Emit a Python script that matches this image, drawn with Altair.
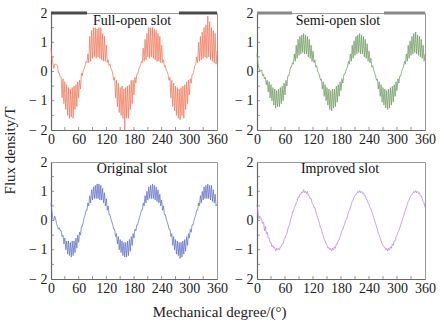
import altair as alt
import pandas as pd

# ---------------- data ----------------
# outer points (tooth tips) at 0,4,...,360 deg; inner points at 2,6,...,358 deg
tip_deg = list(range(0, 361, 4))
inner_deg = list(range(2, 360, 4))

full_tip = [0.8, 0.3, 0.25, 0.25, -0.05, -0.2, -0.9, -1.1, -1.3, -1.5, -1.6, -1.55, -1.6, -1.3, -1.2, -0.9, -0.6, -0.15,
            0.1, 0.35, 0.6, 1.2, 1.4, 1.5, 1.5, 1.45, 1.5, 1.5, 1.3, 1.2, 0.9, 0.4, 0.25, 0.05, -0.3, -0.9, -1.2, -1.4,
            -1.5, -1.6, -2.0, -1.6, -1.6, -1.3, -1.1, -0.8, -0.4, -0.1, 0.15, 0.35, 0.8, 1.1, 1.3, 1.5, 1.5, 1.5, 1.45,
            1.4, 1.3, 1.2, 0.9, 0.4, 0.2, 0.0, -0.3, -0.9, -1.2, -1.35, -1.5, -1.6, -1.65, -1.5, -1.6, -1.3, -1.1, -0.8,
            -0.4, -0.1, 0.2, 0.5, 1.0, 1.2, 1.35, 1.5, 1.6, 1.9, 1.7, 1.5, 1.4, 1.3, 0.7]
full_inner = [0.45, 0.1, 0.25, 0.2, -0.05, -0.2, -0.25, -0.35, -0.45, -0.55, -0.6, -0.55, -0.5, -0.45, -0.35, -0.3, -0.05,
              0.05, 0.2, 0.3, 0.3, 0.35, 0.45, 0.5, 0.45, 0.5, 0.45, 0.4, 0.35, 0.35, 0.3, 0.2, 0.1, -0.1, -0.2, -0.3,
              -0.4, -0.55, -0.5, -0.6, -0.55, -0.5, -0.45, -0.3, -0.3, -0.2, -0.1, 0.05, 0.2, 0.3, 0.35, 0.4, 0.5, 0.45,
              0.5, 0.45, 0.4, 0.35, 0.35, 0.3, 0.3, 0.15, 0.05, -0.1, -0.2, -0.3, -0.4, -0.5, -0.55, -0.6, -0.55, -0.5,
              -0.45, -0.35, -0.3, -0.25, -0.1, 0.05, 0.25, 0.3, 0.35, 0.4, 0.45, 0.5, 0.45, 0.5, 0.4, 0.35, 0.3, 0.25]

semi_tip = [0.6, 0.1, 0.05, -0.15, -0.25, -0.45, -0.7, -0.9, -1.0, -1.15, -1.25, -1.2, -1.2, -1.1, -1.0, -0.8, -0.5, -0.15,
            0.15, 0.3, 0.6, 0.9, 1.1, 1.2, 1.25, 1.3, 1.25, 1.2, 1.1, 0.9, 0.7, 0.4, 0.2, -0.05, -0.3, -0.6, -0.85, -1.0,
            -1.15, -1.3, -1.35, -1.25, -1.2, -1.05, -0.85, -0.65, -0.4, -0.1, 0.1, 0.35, 0.6, 0.9, 1.05, 1.2, 1.25, 1.3,
            1.25, 1.2, 1.1, 0.95, 0.7, 0.45, 0.2, -0.05, -0.3, -0.6, -0.85, -1.05, -1.15, -1.25, -1.3, -1.25, -1.15,
            -1.05, -0.85, -0.65, -0.4, -0.15, 0.1, 0.35, 0.6, 0.9, 1.05, 1.2, 1.3, 1.35, 1.25, 1.2, 1.1, 0.9, 0.6]
semi_inner = [0.3, 0.0, 0.05, -0.1, -0.2, -0.3, -0.35, -0.45, -0.55, -0.6, -0.65, -0.6, -0.55, -0.5, -0.4, -0.3, -0.15,
              0.0, 0.15, 0.25, 0.35, 0.45, 0.55, 0.6, 0.65, 0.6, 0.6, 0.5, 0.45, 0.35, 0.3, 0.15, 0.0, -0.15, -0.25,
              -0.35, -0.45, -0.55, -0.6, -0.65, -0.6, -0.6, -0.5, -0.45, -0.35, -0.25, -0.1, 0.0, 0.15, 0.25, 0.35,
              0.45, 0.55, 0.6, 0.65, 0.6, 0.6, 0.5, 0.45, 0.35, 0.3, 0.15, 0.05, -0.15, -0.25, -0.35, -0.45, -0.55,
              -0.6, -0.65, -0.6, -0.55, -0.5, -0.45, -0.35, -0.25, -0.15, 0.0, 0.15, 0.25, 0.35, 0.45, 0.55, 0.6, 0.65,
              0.6, 0.55, 0.5, 0.45, 0.35]

orig_tip = [0.6, 0.05, 0.15, -0.1, -0.3, -0.35, -0.55, -0.8, -1.0, -1.15, -1.2, -1.25, -1.2, -1.1, -0.95, -0.75, -0.5,
            -0.2, 0.1, 0.35, 0.6, 0.85, 1.05, 1.15, 1.2, 1.25, 1.25, 1.2, 1.1, 0.95, 0.75, 0.5, 0.2, -0.05, -0.3, -0.55,
            -0.8, -1.0, -1.1, -1.2, -1.25, -1.25, -1.2, -1.05, -0.85, -0.6, -0.35, -0.15, 0.1, 0.35, 0.6, 0.85, 1.0,
            1.15, 1.2, 1.25, 1.2, 1.15, 1.05, 0.9, 0.7, 0.5, 0.2, -0.05, -0.3, -0.55, -0.85, -1.0, -1.15, -1.2, -1.3,
            -1.25, -1.15, -1.05, -0.85, -0.6, -0.4, -0.15, 0.1, 0.35, 0.6, 0.85, 1.0, 1.15, 1.2, 1.25, 1.2, 1.2, 1.05,
            0.9, 0.55]
orig_inner = [0.3, 0.0, 0.05, -0.2, -0.25, -0.35, -0.5, -0.6, -0.7, -0.7, -0.75, -0.7, -0.7, -0.6, -0.5, -0.4, -0.2,
              -0.05, 0.2, 0.35, 0.5, 0.6, 0.7, 0.75, 0.75, 0.75, 0.7, 0.7, 0.6, 0.5, 0.35, 0.2, 0.05, -0.15, -0.3,
              -0.45, -0.55, -0.65, -0.7, -0.75, -0.75, -0.7, -0.65, -0.55, -0.45, -0.3, -0.15, 0.0, 0.2, 0.35, 0.5,
              0.6, 0.7, 0.75, 0.75, 0.75, 0.7, 0.65, 0.6, 0.5, 0.35, 0.2, 0.05, -0.15, -0.3, -0.45, -0.55, -0.65, -0.7,
              -0.75, -0.75, -0.7, -0.65, -0.55, -0.45, -0.3, -0.15, 0.0, 0.2, 0.35, 0.5, 0.6, 0.7, 0.75, 0.75, 0.75,
              0.7, 0.65, 0.6, 0.5]

impr_tip = [0.55, 0.05, 0.1, -0.1, -0.35, -0.45, -0.6, -0.75, -0.9, -0.95, -1.05, -1.0, -1.0, -0.9, -0.8, -0.6, -0.45,
            -0.2, 0.05, 0.3, 0.45, 0.6, 0.8, 0.9, 0.98, 1.05, 1.0, 1.0, 0.85, 0.75, 0.55, 0.45, 0.2, 0.0, -0.25, -0.45,
            -0.65, -0.8, -0.95, -1.0, -1.05, -1.0, -0.95, -0.8, -0.65, -0.45, -0.3, -0.1, 0.05, 0.3, 0.45, 0.65, 0.8,
            0.9, 1.0, 1.02, 1.0, 0.95, 0.85, 0.7, 0.55, 0.4, 0.2, 0.0, -0.2, -0.45, -0.6, -0.8, -0.9, -1.0, -1.05, -1.0,
            -0.95, -0.85, -0.7, -0.5, -0.35, -0.15, 0.05, 0.25, 0.45, 0.65, 0.8, 0.9, 1.0, 1.02, 1.0, 0.95, 0.85, 0.65,
            0.45]
impr_inner = [0.3, 0.15, 0.0, -0.05, -0.2, -0.4, -0.6, -0.75, -0.85, -0.92, -0.95, -0.95, -0.9, -0.8, -0.65, -0.5, -0.3,
              -0.15, 0.1, 0.3, 0.5, 0.65, 0.8, 0.9, 0.95, 0.95, 0.92, 0.85, 0.75, 0.6, 0.45, 0.3, 0.1, -0.1, -0.3, -0.5,
              -0.7, -0.85, -0.92, -0.95, -0.95, -0.9, -0.8, -0.7, -0.55, -0.35, -0.2, 0.0, 0.15, 0.35, 0.55, 0.7, 0.85,
              0.92, 0.95, 0.95, 0.92, 0.85, 0.75, 0.6, 0.45, 0.3, 0.1, -0.1, -0.3, -0.5, -0.7, -0.85, -0.92, -0.95,
              -0.95, -0.9, -0.8, -0.7, -0.55, -0.4, -0.25, -0.05, 0.15, 0.35, 0.55, 0.7, 0.85, 0.92, 0.95, 0.95, 0.92,
              0.85, 0.75, 0.6]

x_ticks = [0, 60, 120, 180, 240, 300, 360]
y_ticks = [-2, -1, 0, 1, 2]
x_minor = [30, 60, 90, 120, 150, 180, 210, 240, 270, 300, 330]
y_minor = [-1.5, -1, -0.5, 0, 0.5, 1, 1.5]

FONT = "Liberation Serif"


def series(tips, inners):
    rows = [(d, v) for d, v in zip(tip_deg, tips)] + [(d, v) for d, v in zip(inner_deg, inners)]
    rows.sort()
    return pd.DataFrame(rows, columns=["deg", "val"])


def xaxis():
    return alt.Axis(values=x_ticks, ticks=False, grid=False, domainColor="#666666", domainWidth=1.2,
                    labelFont=FONT, labelFontSize=14, labelColor="#222222", labelPadding=2,
                    labelOverlap=False, labelFlush=False, title="")


def yaxis():
    return alt.Axis(values=y_ticks, ticks=False, grid=False, domainColor="#666666", domainWidth=1.2,
                    labelFont=FONT, labelFontSize=14, labelColor="#222222", labelPadding=4, title="",
                    labelOverlap=False, labelFlush=False,
                    labelExpr="datum.value < 0 ? '\u2212 ' + abs(datum.value) : datum.label")


def xs():
    return alt.Scale(domain=[0, 360], nice=False, zero=False)


def ys():
    return alt.Scale(domain=[-2, 2], nice=False)


def panel(tips, inners, color, title, W, H, top_rule=None, title_x=None, title_y=8):
    line = alt.Chart(series(tips, inners)).mark_line(color=color, strokeWidth=0.75).encode(
        x=alt.X("deg:Q", scale=xs(), axis=xaxis()),
        y=alt.Y("val:Q", scale=ys(), axis=yaxis()),
    )
    xt = alt.Chart(pd.DataFrame({"deg": x_minor})).mark_tick(
        orient="vertical", size=3, thickness=1, color="#666666").encode(
        x=alt.X("deg:Q", scale=xs(), axis=xaxis()), y=alt.value(H - 1.5))
    yt = alt.Chart(pd.DataFrame({"val": y_minor})).mark_tick(
        orient="horizontal", size=3, thickness=1, color="#666666").encode(
        y=alt.Y("val:Q", scale=ys(), axis=yaxis()), x=alt.value(1.5))
    layers = [line, xt, yt]
    if top_rule is not None:
        c, a, b = top_rule
        seg = pd.DataFrame({"k": [0]})
        layers.append(alt.Chart(seg).mark_rule(color=c, strokeWidth=3).encode(
            x=alt.value(0), x2=alt.value(a), y=alt.value(0)))
        layers.append(alt.Chart(seg).mark_rule(color=c, strokeWidth=3).encode(
            x=alt.value(b), x2=alt.value(W), y=alt.value(0)))
    layers.append(alt.Chart(pd.DataFrame({"t": [title]})).mark_text(
        font=FONT, fontSize=14, color="#111111", baseline="middle", align="center").encode(
        text="t:N", x=alt.value(title_x if title_x is not None else W / 2), y=alt.value(title_y)))
    return alt.layer(*layers).properties(width=W, height=H)


p1 = panel(full_tip, full_inner, "#f2785a", "Full-open slot", 166, 117,
           top_rule=("#4a4a4a", 36, 128), title_x=81)
p2 = panel(semi_tip, semi_inner, "#6f9c60", "Semi-open slot", 168, 117,
           top_rule=("#888888", 35, 127), title_x=81)
p3 = panel(orig_tip, orig_inner, "#6072c8", "Original slot", 166, 117, title_x=81, title_y=7)
p4 = panel(impr_tip, impr_inner, "#b985c8", "Improved slot", 168, 117, title_x=83, title_y=7)

grid = alt.concat(p1, p2, p3, p4, columns=2, spacing={"row": 7, "column": 6}).properties(
    title=alt.TitleParams("Flux density/T", orient="left", anchor="middle", font=FONT, fontSize=15,
                          fontWeight="normal", color="#222222", offset=10)
)

chart = alt.vconcat(grid).properties(
    title=alt.TitleParams("Mechanical degree/(\u00b0)", orient="bottom", anchor="middle", font=FONT,
                          fontSize=15, fontWeight="normal", color="#222222", offset=9),
    padding={"left": 3, "top": 5, "right": 5, "bottom": 5},
    background="white",
).configure_view(stroke="#999999", strokeWidth=1)

chart.save("out.html", embed_options={"renderer": "svg", "actions": False})
